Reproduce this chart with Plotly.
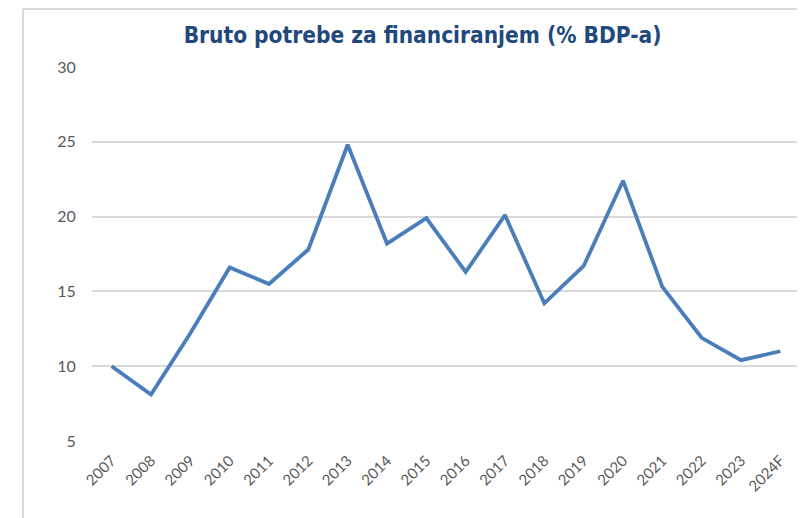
import plotly.graph_objects as go

# Bruto potrebe za financiranjem, % BDP-a
years = ["2007", "2008", "2009", "2010", "2011", "2012", "2013", "2014", "2015",
         "2016", "2017", "2018", "2019", "2020", "2021", "2022", "2023", "2024F"]
gfn_pct = [10.0, 8.1, 12.2, 16.6, 15.5, 17.8, 24.8, 18.2, 19.9,
           16.3, 20.1, 14.2, 16.7, 22.4, 15.3, 11.9, 10.4, 11.0]
y_ticks = [5, 10, 15, 20, 25, 30]

title_font = "DejaVu Sans Condensed, Liberation Sans Narrow, sans-serif"
tick_font = "Lato, Open Sans, sans-serif"

# page body adds 8px offset, so margins are shifted accordingly
fig = go.Figure()
fig.add_trace(go.Scatter(
    x=years, y=gfn_pct, mode="lines",
    line=dict(color="#4a7ebb", width=3.8),
    hoverinfo="x+y",
))

plot_w, plot_h = 708, 374
left_frame = (15 - 84) / plot_w
top_frame = (433 - 1) / plot_h

fig.update_layout(
    width=805, height=518,
    margin=dict(l=84, r=13, t=59, b=85),
    paper_bgcolor="white", plot_bgcolor="white",
    showlegend=False,
    title=dict(
        text="<b>Bruto potrebe za financiranjem (% BDP-a)</b>",
        x=0.515, xanchor="center", y=1 - 27 / 518, yanchor="middle",
        font=dict(family=title_font, size=22.5, color="#1f497d"),
    ),
    xaxis=dict(
        type="category", range=[-0.5, len(years) - 0.5], tickangle=-45,
        showgrid=False, zeroline=False,
        showline=False, ticks="outside", ticklen=4, tickcolor="white",
        tickfont=dict(family=tick_font, size=15, color="#595959"),
    ),
    yaxis=dict(
        range=[5, 30], tickvals=y_ticks, showgrid=True, gridcolor="#d9d9d9",
        gridwidth=1.5, zeroline=False, showline=False,
        ticks="outside", ticklen=12, tickcolor="white",
        tickfont=dict(family=tick_font, size=16, color="#595959"),
    ),
    shapes=[
        # chart-area frame (left and top edges visible)
        dict(type="line", xref="paper", yref="paper",
             x0=left_frame, x1=left_frame, y0=-85 / plot_h, y1=top_frame,
             line=dict(color="#d9d9d9", width=2)),
        dict(type="line", xref="paper", yref="paper",
             x0=left_frame, x1=1.02, y0=top_frame, y1=top_frame,
             line=dict(color="#d9d9d9", width=2)),
    ],
)

fig.write_html("out.html")
